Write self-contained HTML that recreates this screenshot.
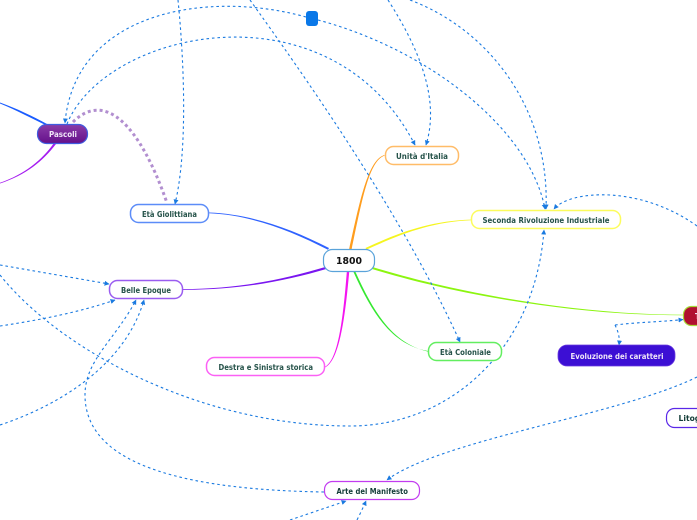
<!DOCTYPE html>
<html>
<head>
<meta charset="utf-8">
<style>
html,body{margin:0;padding:0;background:#fff;width:697px;height:520px;overflow:hidden}
svg{display:block;filter:blur(0.25px)}
text{font-family:"DejaVu Sans","Liberation Sans",sans-serif;font-weight:700;font-size:7.6px}
.d{fill:none;stroke:#1a7ae0;stroke-width:1.1;stroke-dasharray:2.6 2.9;marker-end:url(#a)}
.l{fill:#26534a}
.w{fill:#efe6f8}
</style>
</head>
<body>
<svg width="697" height="520" viewBox="0 0 697 520" xmlns="http://www.w3.org/2000/svg">
<defs>
<marker id="a" markerUnits="userSpaceOnUse" markerWidth="6" markerHeight="6" refX="4.5" refY="2.5" orient="auto">
<path d="M0,0 L5,2.5 L0,5 Z" fill="#1a7ae0"/>
</marker>
<linearGradient id="pg" x1="0" y1="0" x2="0" y2="1">
<stop offset="0" stop-color="#8a3ca8"/>
<stop offset="1" stop-color="#64108a"/>
</linearGradient>
</defs>

<!-- main connectors -->
<path d="M209,212.5 C250,214 290,228 329,248 L328,249.8 C290,230 250,215 209,213.3 Z" fill="#2f62ff"/>
<path d="M384.5,155 C368,160 360,200 349,250 L351.5,250 C362,200 369,161 384.5,155.6 Z" fill="#ff9d1e"/>
<path d="M471,219.6 C430,221 400,232 365.5,248 L366.5,249.6 C401,234 431,222 471,220.3 Z" fill="#f5f520"/>
<path d="M183,289 C240,289 285,279 327,266.5 L327.6,268.6 C285,281 240,290 183,289.8 Z" fill="#7a16f0"/>
<path d="M325,366.8 C338,360 343,320 346.8,272 L349.2,272 C345,320 339,361 325,367.5 Z" fill="#f415f0"/>
<path d="M428,351 C395,345 375,320 353.5,272 L355.5,272 C377,320 396,344 428,351.6 Z" fill="#35e830"/>
<path d="M372.5,267 C460,294 580,314.6 683,314.8 L683,315.3 C580,315.6 460,296 372,269 Z" fill="#8cf510"/>
<path d="M0,102.5 C18,109 32,116 47,124 L45.5,125 C31,118 18,111 0,103.5 Z" fill="#1a5cff"/>
<path d="M0,182.8 C25,174 42,160 54,143 L56,144 C43,161 26,175 0,183.5 Z" fill="#a51cf0"/>

<!-- dashed relation connectors -->
<path class="d" d="M306,17 C210,-10 75,10 65,123"/>
<path class="d" d="M67,124 C105,30 330,-20 415,145"/>
<path class="d" d="M178,0 C184,60 188,150 175,204"/>
<path class="d" d="M250,0 C300,70 400,210 460,342"/>
<path class="d" d="M388,0 C420,50 440,100 426,145"/>
<path class="d" d="M410,0 C490,30 550,110 546,209"/>
<path class="d" d="M318,20 C430,50 530,130 545,209"/>
<path class="d" d="M697,226 C640,185 570,190 554,209"/>
<path class="d" d="M0,275 C60,350 200,426 350,426 C450,426 535,350 544,230"/>
<path class="d" d="M0,265 L109,284"/>
<path class="d" d="M0,326 C40,320 80,312 115,300"/>
<path class="d" d="M0,425 C60,405 125,365 144,300"/>
<path class="d" d="M324,492 C200,490 85,470 85,395 C85,360 115,340 136,300"/>
<path class="d" d="M290,520 L346,501"/>
<path class="d" d="M357,520 Q362,510 366,501"/>
<path class="d" d="M697,377 C620,415 440,440 387,480"/>
<path class="d" d="M615,325 C640,322 660,322 683,319.5"/>
<path class="d" d="M615,325 C618,331 620,337 619,345"/>
<path d="M73,122 C105,90 140,125 167,203" fill="none" stroke="#b28fd0" stroke-width="3" stroke-dasharray="3 3"/>

<!-- blue square -->
<rect x="306" y="11" width="12" height="15" rx="3" fill="#0a78e8"/>

<!-- nodes -->
<rect x="323.5" y="249.5" width="51" height="22" rx="9" fill="#fff" stroke="#5aa3da" stroke-width="1.2"/>
<text x="336" y="264" textLength="26" lengthAdjust="spacingAndGlyphs" style="font-size:9.5px" fill="#111">1800</text>

<rect x="37.5" y="124.5" width="50" height="19" rx="9" fill="url(#pg)" stroke="#3f5ce0" stroke-width="1.2"/>
<text x="49" y="137" textLength="28" lengthAdjust="spacingAndGlyphs" class="w">Pascoli</text>

<rect x="130.5" y="204.5" width="78" height="18" rx="8" fill="#fff" stroke="#5c8cf8" stroke-width="1.5"/>
<text x="142" y="217" textLength="55" lengthAdjust="spacingAndGlyphs" class="l">Età Giolittiana</text>

<rect x="385.5" y="146.5" width="73" height="18" rx="8" fill="#fff" stroke="#ffbc68" stroke-width="1.5"/>
<text x="396" y="159" textLength="52" lengthAdjust="spacingAndGlyphs" class="l">Unità d'Italia</text>

<rect x="471.5" y="210.5" width="149" height="18" rx="8" fill="#fff" stroke="#fcfc5c" stroke-width="1.5"/>
<text x="482.5" y="223" textLength="127" lengthAdjust="spacingAndGlyphs" class="l">Seconda Rivoluzione Industriale</text>

<rect x="109.5" y="280.5" width="73" height="18" rx="8" fill="#fff" stroke="#9a5cf0" stroke-width="1.5"/>
<text x="121" y="293" textLength="50" lengthAdjust="spacingAndGlyphs" class="l">Belle Epoque</text>

<rect x="206.5" y="357.5" width="118" height="18" rx="8" fill="#fff" stroke="#fb60f5" stroke-width="1.5"/>
<text x="218.5" y="370" textLength="94.5" lengthAdjust="spacingAndGlyphs" class="l">Destra e Sinistra storica</text>

<rect x="428.5" y="342.5" width="73" height="18" rx="8" fill="#fff" stroke="#62ee60" stroke-width="1.5"/>
<text x="440" y="355" textLength="51" lengthAdjust="spacingAndGlyphs" class="l">Età Coloniale</text>

<rect x="558" y="345" width="117" height="21" rx="9" fill="#3c0fd4" stroke="#6a3be0" stroke-width="0.8"/>
<text x="570.5" y="359" textLength="93" lengthAdjust="spacingAndGlyphs" class="w">Evoluzione dei caratteri</text>

<rect x="683.5" y="306.5" width="40" height="19" rx="8" fill="#b01030" stroke="#a6d838" stroke-width="1.2"/>
<text x="695" y="319" class="w">Tipografia</text>

<rect x="666.5" y="408.5" width="60" height="19" rx="8" fill="#fff" stroke="#5a28e8" stroke-width="1.2"/>
<text x="678.5" y="421" fill="#133d38">Litografia</text>

<rect x="324.5" y="481.5" width="95" height="18" rx="8" fill="#fff" stroke="#c23cf0" stroke-width="1.2"/>
<text x="336.5" y="494" textLength="71.5" lengthAdjust="spacingAndGlyphs" fill="#133d38">Arte del Manifesto</text>
</svg>
</body>
</html>
